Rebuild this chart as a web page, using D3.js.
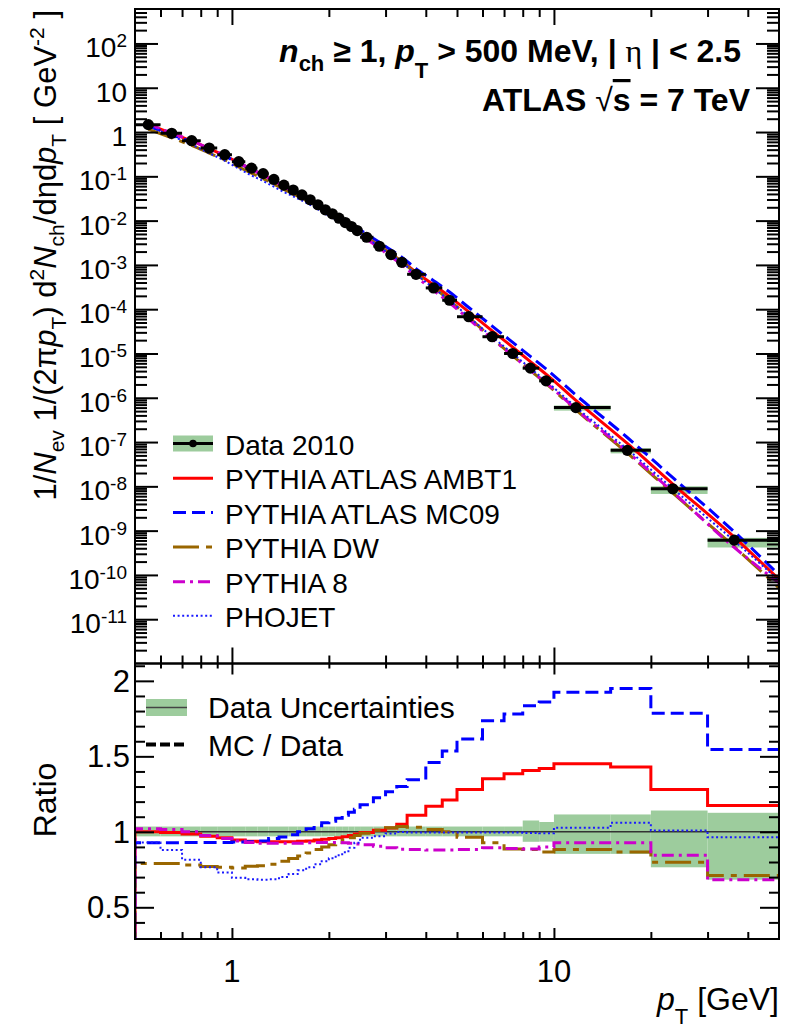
<!DOCTYPE html>
<html>
<head>
<meta charset="utf-8">
<script src="https://cdn.jsdelivr.net/npm/d3@7"></script>
<style>
  body { margin: 0; background: #fff; }
  svg text { font-family: "Liberation Sans", Arial, Helvetica, sans-serif; fill: #000; }
</style>
</head>
<body>
<svg id="chart" width="792" height="1028"></svg>
<script>
// ---- pT binning (GeV) and data ----
const binEdges = [0.5,0.6,0.7,0.8,0.9,1.0,1.1,1.2,1.3,1.4,1.5,1.6,1.7,1.8,1.9,2.0,2.1,2.2,2.3,2.4,2.5,
                  2.75,3.0,3.25,3.5,4.0,4.5,5,6,7,8,9,10,15,20,30,50];
const ptMean = [0.55,0.65,0.75,0.85,0.95,1.05,1.15,1.25,1.35,1.45,1.55,1.65,1.75,1.85,1.95,2.05,2.15,2.25,2.35,2.45,
                2.62,2.87,3.12,3.37,3.73,4.23,4.74,5.44,6.43,7.45,8.45,9.45,11.7,16.9,23.4,36.3];
const dataYield = [1.47,0.935,0.638,0.435,0.308,0.214,0.153,0.115,0.085,0.0632,0.049,0.038,0.0296,0.0228,0.01754,
                   0.01426,0.01133,0.00905,0.00736,0.00597,0.00421,0.00264,0.00171,0.001146,0.000613,0.000302,
                   0.000159,6.76e-5,2.39e-5,1.0e-5,4.67e-6,2.41e-6,6.0e-7,6.5e-8,8.8e-9,6.1e-10];
// relative total uncertainty of the data (up / down)
const uncUp   = [0.035,0.035,0.035,0.035,0.035,0.035,0.035,0.035,0.035,0.035,0.035,0.035,0.035,0.035,0.035,0.035,
                 0.035,0.035,0.035,0.035,0.035,0.035,0.035,0.035,0.035,0.035,0.035,0.035,0.035,0.035,0.075,0.065,
                 0.115,0.115,0.141,0.126];
const uncDown = [0.03,0.03,0.03,0.03,0.03,0.03,0.03,0.03,0.03,0.03,0.03,0.03,0.03,0.03,0.03,0.03,
                 0.03,0.03,0.03,0.03,0.03,0.03,0.03,0.03,0.03,0.03,0.03,0.03,0.03,0.03,0.066,0.065,
                 0.146,0.146,0.235,0.317];

// ---- MC / Data ratios per bin ----
const ratioAMBT1 = [1.00,0.995,0.985,0.97,0.96,0.945,0.937,0.935,0.935,0.935,0.935,0.938,0.94,0.945,0.95,0.955,
                    0.96,0.968,0.975,0.985,0.995,1.01,1.025,1.05,1.11,1.17,1.21,1.281,1.352,1.385,1.407,1.42,
                    1.451,1.429,1.281,1.175];
const ratioMC09  = [0.927,0.928,0.93,0.93,0.93,0.932,0.935,0.94,0.955,0.965,0.98,1.0,1.02,1.04,1.06,1.07,
                    1.09,1.11,1.13,1.15,1.18,1.225,1.265,1.3,1.345,1.46,1.535,1.615,1.735,1.78,1.835,1.86,
                    1.925,1.95,1.785,1.545];
const ratioDW    = [0.79,0.79,0.78,0.77,0.765,0.76,0.772,0.775,0.785,0.805,0.823,0.84,0.86,0.883,0.9,0.915,
                    0.93,0.945,0.96,0.975,0.99,1.01,1.027,1.035,1.03,1.015,1.0,0.964,0.927,0.887,0.883,0.867,
                    0.883,0.867,0.798,0.71];
const ratioPY8   = [1.02,1.015,1.0,0.975,0.955,0.94,0.93,0.925,0.925,0.925,0.925,0.925,0.928,0.93,0.93,0.93,
                    0.93,0.928,0.925,0.92,0.915,0.905,0.895,0.885,0.883,0.88,0.88,0.883,0.894,0.89,0.887,0.9,
                    0.927,0.927,0.845,0.683];
const ratioPHOJET= [0.93,0.88,0.815,0.765,0.73,0.695,0.685,0.683,0.685,0.70,0.72,0.745,0.765,0.785,0.805,0.825,
                    0.845,0.865,0.894,0.927,0.96,0.971,0.989,0.998,0.995,0.995,0.995,0.995,0.995,0.995,0.993,0.99,
                    1.027,1.06,1.009,0.964];
// MC spectra at the upper end of the pT range (50 GeV)
const mcEndPt = 50;
const mcEndYield = { AMBT1: 7.9e-11, MC09: 1.0e-10, DW: 5.1e-11, PY8: 6.6e-11, PHOJET: 7.5e-11 };

// ---- axis tick values / labels ----
const xMajorTicks = [1, 10];
const xMinorTicks = [0.6,0.7,0.8,0.9,2,3,4,5,6,7,8,9,20,30,40];
const xTickLabels = ["1", "10"];
const yTopExponents = [-11,-10,-9,-8,-7,-6,-5,-4,-3,-2,-1,0,1,2];
const ratioMajorTicks = [0.5, 1, 1.5, 2];
const ratioTickLabels = ["0.5", "1", "1.5", "2"];
const ratioMinorTicks = [0.4,0.6,0.7,0.8,0.9,1.1,1.2,1.3,1.4,1.6,1.7,1.8,1.9,2.1];

// ---- series styling ----
const mcSeries = [
  { key: "AMBT1",  name: "PYTHIA ATLAS AMBT1", ratio: ratioAMBT1,  color: "#ff0000", width: 3,   dash: null },
  { key: "MC09",   name: "PYTHIA ATLAS MC09",  ratio: ratioMC09,   color: "#0000ff", width: 3,   dash: "13 6" },
  { key: "DW",     name: "PYTHIA DW",          ratio: ratioDW,     color: "#996600", width: 3,   dash: "26 7 6 7" },
  { key: "PY8",    name: "PYTHIA 8",           ratio: ratioPY8,    color: "#cc00cc", width: 3,   dash: "12 5 3 5" },
  { key: "PHOJET", name: "PHOJET",             ratio: ratioPHOJET, color: "#1a1aff", width: 2,   dash: "2 2.6" }
];
const bandColor = "#9dcc9d";

// ---- layout ----
const F = { left: 135, right: 779, top: 9, mid: 663.5, bottom: 939 };
const svg = d3.select("#chart");

const x = d3.scaleLog().domain([0.5, 50]).range([F.left, F.right]);
const yTop = d3.scaleLog().domain([1e-12, 600]).range([F.mid, F.top]);
const yRat = d3.scaleLinear().domain([0.29, 2.115]).range([F.bottom, F.mid]);

const defs = svg.append("defs");
defs.append("clipPath").attr("id", "clipTop").append("rect")
  .attr("x", F.left).attr("y", F.top).attr("width", F.right - F.left).attr("height", F.mid - F.top);
defs.append("clipPath").attr("id", "clipRat").append("rect")
  .attr("x", F.left).attr("y", F.mid).attr("width", F.right - F.left).attr("height", F.bottom - F.mid);

// rich text helper: parts carry their own size, style and vertical shift
function rich(sel, parts, size) {
  let cur = 0;
  parts.forEach(p => {
    const shift = p.shift || 0;
    const t = sel.append("tspan").text(p.t)
      .attr("font-size", p.fs || size)
      .attr("dy", shift - cur);
    if (p.it) t.attr("font-style", "italic");
    if (p.w) t.attr("font-weight", p.w);
    if (p.ff) t.attr("font-family", p.ff);
    if (p.deco) t.attr("text-decoration", p.deco);
    cur = shift;
  });
  return sel;
}

// ================= upper panel =================
const gTop = svg.append("g").attr("clip-path", "url(#clipTop)");

// data uncertainty boxes
gTop.selectAll("rect.unc").data(dataYield).join("rect").attr("class", "unc")
  .attr("x", (d, i) => x(binEdges[i]))
  .attr("width", (d, i) => x(binEdges[i + 1]) - x(binEdges[i]))
  .attr("y", (d, i) => yTop(d * (1 + uncUp[i])))
  .attr("height", (d, i) => yTop(d * (1 - uncDown[i])) - yTop(d * (1 + uncUp[i])))
  .attr("fill", bandColor);

// MC spectra: data x (MC/data) at each bin, continued to the end of the range
const specLine = d3.line().x(d => x(d[0])).y(d => yTop(d[1])).curve(d3.curveMonotoneX);
mcSeries.forEach(s => {
  const pts = ptMean.map((p, i) => [p, dataYield[i] * s.ratio[i]]);
  pts.push([mcEndPt, mcEndYield[s.key]]);
  gTop.append("path").datum(pts)
    .attr("d", specLine)
    .attr("fill", "none")
    .attr("stroke", s.color)
    .attr("stroke-width", s.width)
    .attr("stroke-dasharray", s.dash);
});

// horizontal bin-width bars
gTop.selectAll("line.xerr").data(dataYield).join("line").attr("class", "xerr")
  .attr("x1", (d, i) => x(binEdges[i])).attr("x2", (d, i) => x(binEdges[i + 1]))
  .attr("y1", d => yTop(d)).attr("y2", d => yTop(d))
  .attr("stroke", "#000").attr("stroke-width", 3);

// markers
gTop.selectAll("circle.pt").data(dataYield).join("circle").attr("class", "pt")
  .attr("cx", (d, i) => x(ptMean[i])).attr("cy", d => yTop(d)).attr("r", 5.6)
  .attr("fill", "#000");

// ================= ratio panel =================
const gRat = svg.append("g").attr("clip-path", "url(#clipRat)");

gRat.selectAll("rect.band").data(uncUp).join("rect").attr("class", "band")
  .attr("x", (d, i) => x(binEdges[i]))
  .attr("width", (d, i) => x(binEdges[i + 1]) - x(binEdges[i]))
  .attr("y", (d, i) => yRat(1 + uncUp[i]))
  .attr("height", (d, i) => yRat(1 - uncDown[i]) - yRat(1 + uncUp[i]))
  .attr("fill", bandColor);

gRat.append("line")
  .attr("x1", F.left).attr("x2", F.right).attr("y1", yRat(1)).attr("y2", yRat(1))
  .attr("stroke", "#333").attr("stroke-width", 1.6);

const stepLine = d3.line().x(d => x(d[0])).y(d => yRat(d[1])).curve(d3.curveStepAfter);
mcSeries.forEach(s => {
  const pts = [[binEdges[0], 0]];
  s.ratio.forEach((r, i) => pts.push([binEdges[i], r]));
  pts.push([binEdges[binEdges.length - 1], s.ratio[s.ratio.length - 1]]);
  gRat.append("path").datum(pts)
    .attr("d", stepLine)
    .attr("fill", "none")
    .attr("stroke", s.color)
    .attr("stroke-width", s.width)
    .attr("stroke-dasharray", s.dash);
});

// ================= axes =================
function tickAxis(gen, tx, ty, values, size) {
  const g = svg.append("g").attr("transform", `translate(${tx},${ty})`)
    .call(gen.tickValues(values).tickSize(size).tickSizeOuter(0).tickFormat(""));
  g.select(".domain").remove();
  g.selectAll("line").attr("stroke", "#000").attr("stroke-width", 2);
  return g;
}
const yTopMinor = [];
d3.range(-12, 3).forEach(e => d3.range(2, 10).forEach(k => {
  const v = k * Math.pow(10, e);
  if (v < 600) yTopMinor.push(v);
}));
const yTopMajor = yTopExponents.map(e => Math.pow(10, e));

// upper panel ticks
tickAxis(d3.axisLeft(yTop), F.left, 0, yTopMajor, -23);
tickAxis(d3.axisLeft(yTop), F.left, 0, yTopMinor, -12);
tickAxis(d3.axisRight(yTop), F.right, 0, yTopMajor, -23);
tickAxis(d3.axisRight(yTop), F.right, 0, yTopMinor, -12);
tickAxis(d3.axisTop(x), 0, F.top, xMajorTicks, -16);
tickAxis(d3.axisTop(x), 0, F.top, xMinorTicks, -8);
tickAxis(d3.axisBottom(x), 0, F.mid, xMajorTicks, -16);
tickAxis(d3.axisBottom(x), 0, F.mid, xMinorTicks, -8);

// ratio panel ticks
tickAxis(d3.axisLeft(yRat), F.left, 0, ratioMajorTicks, -19);
tickAxis(d3.axisLeft(yRat), F.left, 0, ratioMinorTicks, -10);
tickAxis(d3.axisRight(yRat), F.right, 0, ratioMajorTicks, -19);
tickAxis(d3.axisRight(yRat), F.right, 0, ratioMinorTicks, -10);
tickAxis(d3.axisTop(x), 0, F.mid, xMajorTicks, -11);
tickAxis(d3.axisTop(x), 0, F.mid, xMinorTicks, -5);
tickAxis(d3.axisBottom(x), 0, F.bottom, xMajorTicks, -11);
tickAxis(d3.axisBottom(x), 0, F.bottom, xMinorTicks, -7);

// frames
svg.append("rect").attr("x", F.left).attr("y", F.top).attr("width", F.right - F.left)
  .attr("height", F.mid - F.top).attr("fill", "none").attr("stroke", "#000").attr("stroke-width", 2);
svg.append("rect").attr("x", F.left).attr("y", F.mid).attr("width", F.right - F.left)
  .attr("height", F.bottom - F.mid).attr("fill", "none").attr("stroke", "#000").attr("stroke-width", 2);

// upper panel tick labels (powers of ten)
yTopExponents.forEach(e => {
  const t = svg.append("text").attr("x", 127).attr("y", yTop(Math.pow(10, e)) + 14)
    .attr("text-anchor", "end");
  if (e === 0) rich(t, [{ t: "1" }], 28);
  else if (e === 1) rich(t, [{ t: "10" }], 28);
  else rich(t, [{ t: "10" }, { t: String(e), fs: 19, shift: -10 }], 28);
});

// ratio panel tick labels
ratioMajorTicks.forEach((v, i) => {
  svg.append("text").attr("x", 130).attr("y", yRat(v) + 11).attr("text-anchor", "end")
    .attr("font-size", 31).text(ratioTickLabels[i]);
});
xMajorTicks.forEach((v, i) => {
  svg.append("text").attr("x", x(v)).attr("y", 982).attr("text-anchor", "middle")
    .attr("font-size", 31).text(xTickLabels[i]);
});

// axis titles
rich(svg.append("text").attr("transform", "translate(56,10) rotate(-90)").attr("text-anchor", "end"), [
  { t: "1/" }, { t: "N", it: true }, { t: "ev", fs: 21, shift: 8 },
  { t: " 1/(2\u03C0" }, { t: "p", it: true }, { t: "T", fs: 21, shift: 10 },
  { t: ") d" }, { t: "2", fs: 21, shift: -12 }, { t: "N", it: true }, { t: "ch", fs: 21, shift: 8 },
  { t: "/d\u03B7d" }, { t: "p", it: true }, { t: "T", fs: 21, shift: 10 },
  { t: " [ GeV" }, { t: "-2", fs: 21, shift: -12 }, { t: " ]" }
], 31);

svg.append("text").attr("transform", "translate(56,800) rotate(-90)").attr("text-anchor", "middle")
  .attr("font-size", 32).text("Ratio");

rich(svg.append("text").attr("x", 779).attr("y", 1010).attr("text-anchor", "end"), [
  { t: "p", it: true }, { t: "T", fs: 22, shift: 14 }, { t: " [GeV]" }
], 32);

// plot labels
rich(svg.append("text").attr("x", 741).attr("y", 62).attr("text-anchor", "end").attr("font-weight", "bold"), [
  { t: "n", it: true }, { t: "ch", fs: 22, shift: 9 }, { t: " \u2265 1, " },
  { t: "p", it: true }, { t: "T", fs: 22, shift: 16 }, { t: " > 500 MeV, | " },
  { t: "\u03B7", ff: "Liberation Serif", w: "normal" }, { t: " | < 2.5" }
], 32);
rich(svg.append("text").attr("x", 750).attr("y", 111).attr("text-anchor", "end").attr("font-weight", "bold"), [
  { t: "ATLAS " }, { t: "\u221A", w: "normal" }, { t: "s", deco: "overline" }, { t: " = 7 TeV" }
], 32);

// ================= legends =================
const legTop = svg.append("g");
const legRows = [443.5, 478.3, 512.5, 547, 581.7, 615.7];
// data entry
legTop.append("rect").attr("x", 173).attr("y", legRows[0] - 8).attr("width", 40).attr("height", 16)
  .attr("fill", bandColor);
legTop.append("line").attr("x1", 173).attr("x2", 213).attr("y1", legRows[0]).attr("y2", legRows[0])
  .attr("stroke", "#000").attr("stroke-width", 3);
legTop.append("circle").attr("cx", 193).attr("cy", legRows[0]).attr("r", 3.8).attr("fill", "#000");
legTop.append("text").attr("x", 225).attr("y", legRows[0] + 11).attr("font-size", 28).text("Data 2010");
mcSeries.forEach((s, i) => {
  const y0 = legRows[i + 1];
  legTop.append("line").attr("x1", 173).attr("x2", 213).attr("y1", y0).attr("y2", y0)
    .attr("stroke", s.color).attr("stroke-width", s.width).attr("stroke-dasharray", s.dash);
  legTop.append("text").attr("x", 225).attr("y", y0 + 11).attr("font-size", 28).text(s.name);
});

const legRat = svg.append("g");
legRat.append("rect").attr("x", 146).attr("y", 699).attr("width", 41).attr("height", 17).attr("fill", bandColor);
legRat.append("line").attr("x1", 146).attr("x2", 187).attr("y1", 707.5).attr("y2", 707.5)
  .attr("stroke", "#444").attr("stroke-width", 1.6);
legRat.append("text").attr("x", 208).attr("y", 718).attr("font-size", 30).text("Data Uncertainties");
legRat.append("line").attr("x1", 146).attr("x2", 187).attr("y1", 744.5).attr("y2", 744.5)
  .attr("stroke", "#000").attr("stroke-width", 4).attr("stroke-dasharray", "10 4");
legRat.append("text").attr("x", 208).attr("y", 756).attr("font-size", 30).text("MC / Data");
</script>
</body>
</html>
